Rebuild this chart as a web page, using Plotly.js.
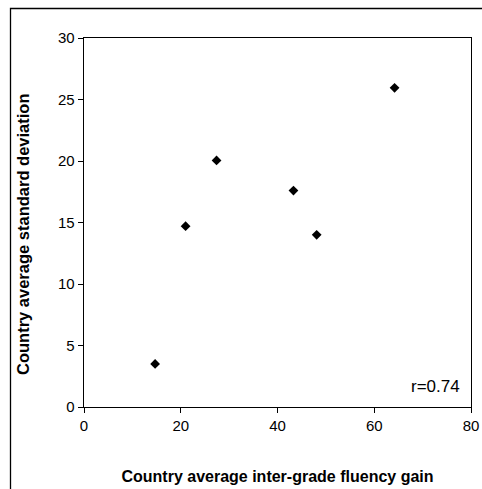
<!DOCTYPE html>
<html>
<head>
<meta charset="utf-8">
<script src="https://cdn.plot.ly/plotly-3.0.1.min.js"></script>
<style>
html,body{margin:0;padding:0;background:#fff;}
#chart{width:482px;height:489px;}
</style>
</head>
<body>
<div id="chart"></div>
<script>
var gain = [14.7, 21.0, 27.4, 43.3, 48.1, 64.2];
var stdev = [3.5, 14.7, 20.05, 17.6, 14.0, 25.95];
var xTicks = [0, 20, 40, 60, 80];
var yTicks = [0, 5, 10, 15, 20, 25, 30];
var xTitle = 'Country average inter-grade fluency gain';
var yTitle = 'Country average standard deviation';
var rLabel = 'r=0.74';

var trace = {
  x: gain, y: stdev, type: 'scatter', mode: 'markers',
  marker: {symbol: 'diamond', size: 7.5, color: '#000'},
  hoverinfo: 'none'
};
var layout = {
  width: 482, height: 489,
  margin: {l: 84, r: 11, t: 38, b: 82},
  paper_bgcolor: '#fff', plot_bgcolor: '#fff',
  font: {family: 'Arial, Liberation Sans, sans-serif', color: '#000'},
  showlegend: false,
  xaxis: {
    range: [0, 80], tickvals: xTicks, ticks: 'outside', ticklen: 5, tickwidth: 1, tickcolor: '#000',
    showgrid: false, zeroline: false, showline: true, linecolor: '#000', linewidth: 1.3, mirror: true,
    tickfont: {size: 15},
    title: {text: xTitle, font: {size: 16, weight: 'bold'}, standoff: 37}
  },
  yaxis: {
    range: [0, 30], tickvals: yTicks, ticks: 'outside', ticklen: 5, tickwidth: 1, tickcolor: '#000',
    showgrid: false, zeroline: false, showline: true, linecolor: '#000', linewidth: 1.3, mirror: true,
    tickfont: {size: 15}
  },
  annotations: [{
    text: rLabel, xref: 'paper', yref: 'paper', x: 0.976, y: 0.055,
    xanchor: 'right', yanchor: 'middle', showarrow: false, font: {size: 17}
  }, {
    text: '<b>' + yTitle + '</b>', xref: 'paper', yref: 'paper',
    x: (23 - 84) / 387, y: (407 - 234) / 369, textangle: -90,
    xanchor: 'center', yanchor: 'middle', showarrow: false, font: {size: 16.5}
  }],
  shapes: [{
    type: 'rect', xref: 'paper', yref: 'paper',
    x0: (10.5 - 84) / 387, x1: 1.2, y0: (407 - 490) / 369, y1: (407 - 8.5) / 369,
    line: {color: '#000', width: 1.3}, fillcolor: 'rgba(0,0,0,0)', layer: 'below'
  }]
};
Plotly.newPlot('chart', [trace], layout, {displayModeBar: false, staticPlot: true});
</script>
</body>
</html>
